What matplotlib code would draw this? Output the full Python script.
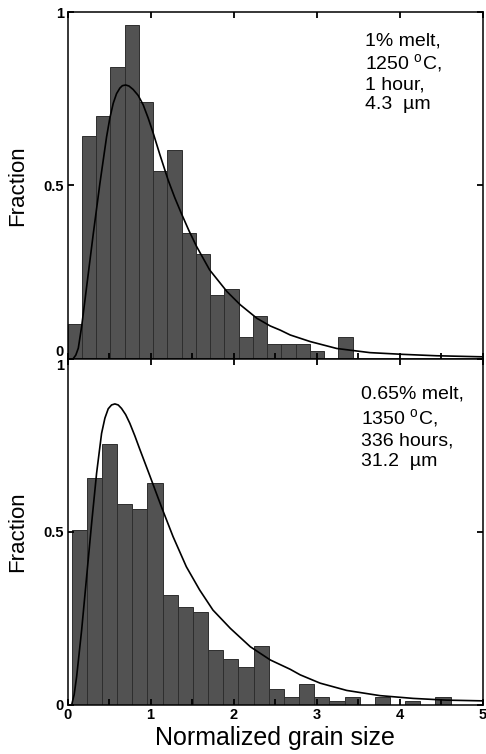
import numpy as np
import matplotlib
matplotlib.use("Agg")
import matplotlib.pyplot as plt

plt.rcParams['font.family'] = ['Liberation Sans', 'DejaVu Sans']
plt.rcParams['mathtext.fontset'] = 'custom'
plt.rcParams['mathtext.rm'] = 'Liberation Sans'

# ---------------- data ----------------
top_bin_start = 0.0
top_bin_width = 0.1716
top_heights = [0.10, 0.644, 0.70, 0.842, 0.963, 0.742, 0.541, 0.602, 0.362, 0.303,
               0.183, 0.202, 0.062, 0.123, 0.042, 0.042, 0.042, 0.021, 0.0, 0.062]

top_curve_x = [0.07, 0.10, 0.13, 0.17, 0.23, 0.31, 0.39, 0.47, 0.51, 0.55, 0.59, 0.63,
               0.66, 0.70, 0.74, 0.79, 0.85, 0.91, 0.97, 1.03, 1.11, 1.21, 1.29, 1.37,
               1.46, 1.55, 1.71, 1.92, 2.08, 2.28, 2.44, 2.56, 2.68, 2.92, 3.24, 3.64,
               4.04, 4.44, 4.98]
top_curve_y = [0.0, 0.01, 0.03, 0.092, 0.207, 0.36, 0.506, 0.64, 0.695, 0.737, 0.765, 0.781,
               0.788, 0.790, 0.787, 0.777, 0.76, 0.733, 0.695, 0.652, 0.59, 0.516, 0.465, 0.419,
               0.37, 0.325, 0.256, 0.193, 0.155, 0.116, 0.094, 0.082, 0.068, 0.049, 0.029, 0.017,
               0.012, 0.008, 0.005]

bot_bin_start = 0.05
bot_bin_width = 0.1824
bot_heights = [0.505, 0.654, 0.752, 0.580, 0.567, 0.641, 0.318, 0.283, 0.269, 0.159,
               0.134, 0.110, 0.171, 0.045, 0.022, 0.060, 0.022, 0.011, 0.022, 0.0,
               0.022, 0.0, 0.011, 0.0, 0.022]

bot_curve_x = [0.05, 0.08, 0.11, 0.17, 0.23, 0.29, 0.35, 0.41, 0.45, 0.49, 0.53, 0.57,
               0.61, 0.65, 0.70, 0.75, 0.81, 0.87, 0.93, 0.99, 1.06, 1.13, 1.27, 1.43,
               1.59, 1.75, 1.96, 2.20, 2.44, 2.68, 2.80, 3.04, 3.36, 3.76, 4.16, 4.56, 4.98]
bot_curve_y = [0.0, 0.03, 0.082, 0.216, 0.37, 0.524, 0.669, 0.784, 0.828, 0.855, 0.866, 0.869,
               0.866, 0.856, 0.838, 0.813, 0.777, 0.738, 0.70, 0.662, 0.617, 0.572, 0.486, 0.399,
               0.332, 0.274, 0.221, 0.168, 0.130, 0.103, 0.087, 0.063, 0.042, 0.027, 0.019, 0.014,
               0.012]

top_text = "1% melt,\n1250 $^{\\mathrm{o}}$C,\n1 hour,\n4.3  µm"
bot_text = "0.65% melt,\n1350 $^{\\mathrm{o}}$C,\n336 hours,\n31.2  µm"

xlabel = "Normalized grain size"
ylabel = "Fraction"
xtick_vals = [0, 1, 2, 3, 4, 5]
ytick_vals = [0, 0.5, 1]
ytick_labels = ["0", "0.5", "1"]

# ---------------- figure ----------------
fig = plt.figure(figsize=(4.86, 7.54), dpi=100)
left, width = 0.1389, 0.855
ax_top = fig.add_axes([left, 0.5245, width, 0.4592])
ax_bot = fig.add_axes([left, 0.0650, width, 0.4595])

bar_face = '#525252'
bar_edge = '#2e2e2e'

def style(ax, show_xlabels):
    ax.set_xlim(0, 5)
    ax.set_ylim(0, 1)
    for s in ax.spines.values():
        s.set_linewidth(1.1)
        s.set_color('black')
    ax.set_xticks(xtick_vals)
    ax.set_xticks(np.arange(0.5, 5, 1.0), minor=True)
    ax.set_yticks(ytick_vals)
    ax.set_yticklabels(ytick_labels)
    ax.tick_params(axis='both', which='major', direction='in', length=4.5, width=1.3,
                   top=True, right=True, labelsize=10.5, pad=2.5)
    ax.tick_params(axis='x', which='minor', direction='in', length=4, width=1.3,
                   top=False, bottom=True)
    for lab in ax.get_xticklabels() + ax.get_yticklabels():
        lab.set_fontweight('bold')
    if show_xlabels:
        ax.set_xticklabels([str(v) for v in xtick_vals])
    else:
        ax.set_xticklabels([])
    ax.set_ylabel(ylabel, fontsize=16, va='center')
    ax.yaxis.set_label_coords(-0.119, 0.5)

# top panel
top_edges = top_bin_start + top_bin_width * np.arange(len(top_heights))
ax_top.bar(top_edges, top_heights, width=top_bin_width, align='edge',
           color=bar_face, edgecolor=bar_edge, linewidth=0.7)
ax_top.plot(top_curve_x, top_curve_y, color='black', lw=1.2)
style(ax_top, False)
ax_top.text(3.58, 0.943, top_text, fontsize=14, va='top', ha='left', linespacing=1.17)

# bottom panel
bot_edges = bot_bin_start + bot_bin_width * np.arange(len(bot_heights))
ax_bot.bar(bot_edges, bot_heights, width=bot_bin_width, align='edge',
           color=bar_face, edgecolor=bar_edge, linewidth=0.7)
ax_bot.plot(bot_curve_x, bot_curve_y, color='black', lw=1.2)
style(ax_bot, True)
ax_bot.text(3.53, 0.922, bot_text, fontsize=14, va='top', ha='left', linespacing=1.25)
ax_bot.set_xlabel(xlabel, fontsize=18)
ax_bot.xaxis.set_label_coords(0.5, -0.095)
ax_bot.xaxis.label.set_va('center')

# nudge the shared-boundary labels apart
ax_top.get_yticklabels()[0].set_va('bottom')
ax_bot.get_yticklabels()[2].set_va('top')

fig.savefig("out.png", dpi=100)
